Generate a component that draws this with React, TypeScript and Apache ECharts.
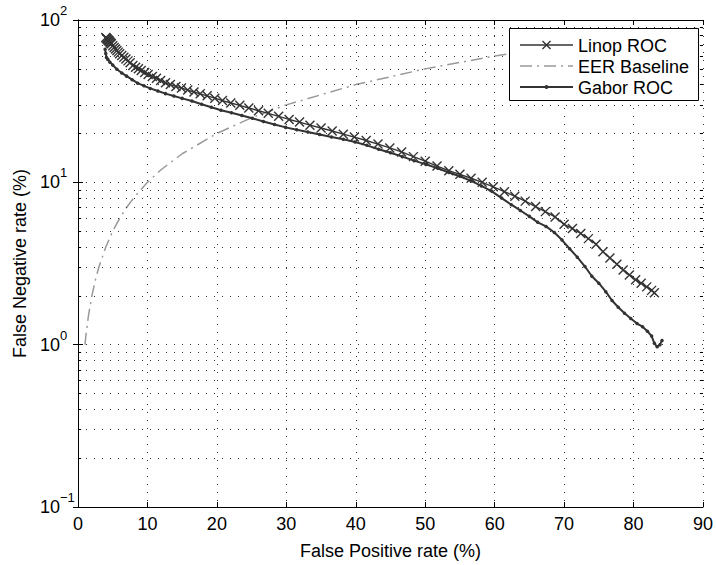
import React, { useEffect, useRef } from 'react';
import * as echarts from 'echarts';

const FONT = '"Liberation Sans", Arial, Helvetica, sans-serif';

const seriesNames = ['Linop ROC', 'EER Baseline', 'Gabor ROC'];

const linopX = [4.0, 4.1, 4.2, 4.3, 4.4, 4.5, 4.6, 4.7, 4.8, 5.0, 5.2, 5.4, 5.6, 5.8, 6.0, 6.3, 6.6, 6.9, 7.2, 7.5, 7.9, 8.3, 8.7, 9.1, 9.6, 10.1, 10.7, 11.3, 11.9, 12.6, 13.3, 14.1, 14.9, 15.8, 16.7, 17.6, 18.6, 19.7, 20.8, 22.0, 23.3, 24.6, 26.0, 27.4, 28.9, 30.4, 31.9, 33.4, 35.0, 36.6, 38.2, 39.8, 41.5, 43.2, 44.9, 46.6, 48.3, 50.0, 51.7, 53.4, 55.0, 56.6, 58.2, 59.8, 61.4, 62.9, 64.4, 65.9, 67.3, 68.7, 70.0, 71.2, 72.4, 73.5, 74.6, 75.6, 76.6, 77.6, 78.5, 79.4, 80.3, 81.1, 81.9, 82.6, 83.0];
const linopY = [78, 77.2, 76.4, 75.5, 74.8, 74, 73.1, 72.1, 71.3, 69.5, 67.8, 66.2, 64.8, 63.4, 62, 60.4, 58.9, 57.5, 56.0, 54.5, 52.5, 51.1, 50.0, 48.9, 47.5, 46.2, 44.9, 43.7, 42.4, 41.0, 40.0, 39.0, 38.1, 37.0, 36.0, 35.1, 34.1, 33.0, 31.9, 30.8, 29.8, 28.7, 27.6, 26.6, 25.5, 24.4, 23.5, 22.5, 21.6, 20.7, 19.8, 19.0, 18.1, 17.2, 16.3, 15.4, 14.4, 13.5, 12.6, 11.8, 11.2, 10.6, 10.0, 9.38, 8.76, 8.22, 7.66, 7.09, 6.60, 6.12, 5.51, 5.19, 4.84, 4.50, 4.16, 3.74, 3.42, 3.13, 2.88, 2.69, 2.51, 2.39, 2.27, 2.16, 2.09];

const gaborX = [3.9, 4.0, 4.1, 4.3, 4.6, 5.0, 5.6, 6.3, 7.0, 7.8, 8.6, 9.5, 10.4, 11.5, 12.6, 13.8, 15.0, 16.4, 17.8, 19.2, 20.6, 22.1, 23.6, 25.1, 26.7, 28.3, 29.9, 31.5, 33.1, 34.8, 36.5, 38.2, 39.9, 41.6, 43.3, 45.0, 46.7, 48.4, 50.1, 51.8, 53.4, 55.0, 56.6, 58.1, 59.6, 61.0, 62.4, 63.7, 65.0, 66.2, 67.4, 68.6, 69.7, 70.8, 71.9, 73.0, 74.0, 75.0, 76.0, 76.9, 77.8, 78.7, 79.6, 80.5, 81.3, 82.0, 82.6, 83.0, 83.4, 83.8, 84.1];
const gaborY = [66, 62.2, 58.8, 57.2, 55.0, 52.8, 49.7, 47.2, 45.1, 42.9, 40.8, 39.3, 37.9, 36.5, 35.2, 34.0, 32.9, 31.7, 30.3, 29.0, 27.8, 26.8, 25.8, 24.8, 23.7, 22.7, 21.8, 21.1, 20.4, 19.7, 19.0, 18.4, 17.7, 16.9, 16.0, 15.2, 14.4, 13.6, 12.9, 12.2, 11.5, 10.9, 10.2, 9.5, 8.8, 8.0, 7.28, 6.71, 6.17, 5.67, 5.35, 4.91, 4.41, 3.90, 3.46, 3.03, 2.64, 2.39, 2.12, 1.87, 1.70, 1.56, 1.45, 1.35, 1.29, 1.21, 1.13, 1.02, 0.97, 1.0, 1.06];

const eerX = [1, 1.2, 1.5, 2, 2.5, 3, 4, 5, 6, 7, 8, 10, 12, 15, 20, 25, 30, 40, 50, 60, 70, 80, 90];
const eerY = [1, 1.2, 1.5, 2, 2.5, 3, 4, 5, 6, 7, 8, 10, 12, 15, 20, 25, 30, 40, 50, 60, 70, 80, 90];

const yMinor = [0.2, 0.3, 0.4, 0.5, 0.6, 0.7, 0.8, 0.9, 2, 3, 4, 5, 6, 7, 8, 9, 20, 30, 40, 50, 60, 70, 80, 90];

const X_MIN = 0;
const X_MAX = 90;
const X_STEP = 10;

export default function App() {
  const ref = useRef<HTMLDivElement>(null);
  useEffect(() => {
    const chart = echarts.init(ref.current!, null, { renderer: 'svg' });
    const dotted = { color: '#333', width: 1, type: [1, 7] as any };
    const supText = (e: number) => (e < 0 ? '\u2212' + (-e) : String(e));
    const option: any = {
      animation: false,
      backgroundColor: '#fff',
      grid: { left: 78, right: 12, top: 20, bottom: 47, containLabel: false },
      xAxis: [
        {
          type: 'value', min: X_MIN, max: X_MAX, interval: X_STEP, position: 'bottom',
          name: 'False Positive rate (%)', nameLocation: 'middle', nameGap: 35,
          nameTextStyle: { fontSize: 18, fontFamily: FONT, color: '#000' },
          axisLine: { lineStyle: { color: '#000', width: 1 } },
          axisTick: { inside: true, length: 5, lineStyle: { color: '#000' } },
          axisLabel: { fontSize: 18, fontFamily: FONT, color: '#000', margin: 8 },
          splitLine: { show: true, lineStyle: dotted },
        },
        {
          type: 'value', min: X_MIN, max: X_MAX, interval: X_STEP, position: 'top',
          axisLine: { lineStyle: { color: '#000', width: 1 } },
          axisTick: { inside: true, length: 5, lineStyle: { color: '#000' } },
          axisLabel: { show: false },
          splitLine: { show: false },
        },
      ],
      yAxis: [
        {
          type: 'log', logBase: 10, min: 0.1, max: 100, position: 'left',
          name: 'False Negative rate (%)', nameLocation: 'middle', nameGap: 42, nameRotate: 90,
          nameTextStyle: { fontSize: 18, fontFamily: FONT, color: '#000' },
          axisLine: { lineStyle: { color: '#000', width: 1 } },
          axisTick: { inside: true, length: 5, lineStyle: { color: '#000' } },
          axisLabel: {
            align: 'left', margin: 38, color: '#000',
            formatter: (v: number) => '{b|10}{s|' + supText(Math.round(Math.log10(v))) + '}',
            rich: {
              b: { fontSize: 18, fontFamily: FONT, color: '#000', padding: [7, 0, 7, 0] },
              s: { fontSize: 13, fontFamily: FONT, color: '#000', verticalAlign: 'top' },
            },
          },
          splitLine: { show: true, lineStyle: dotted },
        },
        {
          type: 'log', logBase: 10, min: 0.1, max: 100, position: 'right',
          axisLine: { lineStyle: { color: '#000', width: 1 } },
          axisTick: { inside: true, length: 5, lineStyle: { color: '#000' } },
          axisLabel: { show: false },
          splitLine: { show: false },
        },
      ],
      legend: { show: false },
      series: [
        {
          name: 'minor grid', type: 'line', data: [], silent: true,
          markLine: {
            silent: true, symbol: ['none', 'none'], label: { show: false },
            lineStyle: dotted,
            data: yMinor.map((v) => ({ yAxis: v })),
          },
        },
        {
          name: 'minor ticks', type: 'line', data: [], silent: true,
          markLine: {
            silent: true, symbol: ['none', 'none'], label: { show: false },
            lineStyle: { color: '#000', width: 1, type: 'solid' },
            data: yMinor.flatMap((v) => [
              [{ coord: [X_MIN, v] }, { coord: [X_MIN + 0.45, v] }],
              [{ coord: [X_MAX - 0.45, v] }, { coord: [X_MAX, v] }],
            ]),
          },
        },
        {
          name: seriesNames[1], type: 'line', symbol: 'none',
          data: eerX.map((x, i) => [x, eerY[i]]),
          lineStyle: { color: '#999', width: 1.5, type: [12, 5, 2, 5] },
        },
        {
          name: seriesNames[0], type: 'line',
          data: linopX.map((x, i) => [x, linopY[i]]),
          symbol: 'path://M0,0L10,10M10,0L0,10', symbolSize: 9,
          itemStyle: { color: '#333', borderColor: '#333', borderWidth: 1.4 },
          lineStyle: { color: '#333', width: 1.4 },
        },
        {
          name: seriesNames[2], type: 'line',
          data: gaborX.map((x, i) => [x, gaborY[i]]),
          symbol: 'circle', symbolSize: 3.5,
          itemStyle: { color: '#333', borderWidth: 0 },
          lineStyle: { color: '#333', width: 2 },
        },
      ],
      graphic: [
        { type: 'rect', z: 100, shape: { x: 509.5, y: 28.5, width: 189, height: 72 }, style: { fill: '#fff', stroke: '#000', lineWidth: 1 } },
        { type: 'line', z: 101, shape: { x1: 520, y1: 45, x2: 573, y2: 45 }, style: { stroke: '#333', lineWidth: 1.4 } },
        { type: 'line', z: 101, shape: { x1: 542.5, y1: 41, x2: 550.5, y2: 49 }, style: { stroke: '#333', lineWidth: 1.4 } },
        { type: 'line', z: 101, shape: { x1: 542.5, y1: 49, x2: 550.5, y2: 41 }, style: { stroke: '#333', lineWidth: 1.4 } },
        { type: 'text', z: 101, x: 578, y: 46, style: { text: seriesNames[0], fontSize: 18, fontFamily: FONT, fill: '#000', verticalAlign: 'middle', align: 'left' } },
        { type: 'line', z: 101, shape: { x1: 520, y1: 66, x2: 573, y2: 66 }, style: { stroke: '#999', lineWidth: 1.5, lineDash: [12, 5, 2, 5] } },
        { type: 'text', z: 101, x: 578, y: 67, style: { text: seriesNames[1], fontSize: 18, fontFamily: FONT, fill: '#000', verticalAlign: 'middle', align: 'left' } },
        { type: 'line', z: 101, shape: { x1: 520, y1: 87, x2: 573, y2: 87 }, style: { stroke: '#333', lineWidth: 2 } },
        { type: 'circle', z: 101, shape: { cx: 546.5, cy: 87, r: 2 }, style: { fill: '#333' } },
        { type: 'text', z: 101, x: 578, y: 88, style: { text: seriesNames[2], fontSize: 18, fontFamily: FONT, fill: '#000', verticalAlign: 'middle', align: 'left' } },
      ],
    };
    chart.setOption(option);
    return () => chart.dispose();
  }, []);
  return (
    <div
      ref={ref}
      style={{ position: 'fixed', left: 0, top: 0, width: 716, height: 565, background: '#fff' }}
    />
  );
}
